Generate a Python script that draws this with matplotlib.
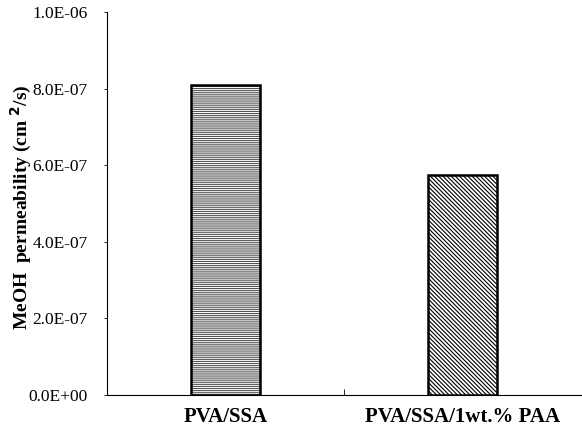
import matplotlib
matplotlib.use("Agg")
import matplotlib.pyplot as plt
import numpy as np

categories = ["PVA/SSA", "PVA/SSA/1wt.% PAA"]
values = [8.1e-7, 5.75e-7]
hatches = ["--------", "\\\\\\\\\\\\\\\\"]
hatch_colors = ["#555555", "black"]
yticks = [0, 2e-7, 4e-7, 6e-7, 8e-7, 1e-6]
ytick_labels = ["0.0E+00", "2.0E-07", "4.0E-07", "6.0E-07", "8.0E-07", "1.0E-06"]

plt.rcParams['font.family'] = ['Liberation Serif', 'DejaVu Serif']
plt.rcParams['hatch.linewidth'] = 0.8

fig = plt.figure(figsize=(5.82, 4.29), dpi=100)
ax = fig.add_axes([0.184, 0.0793, 0.814, 0.893])

x = np.arange(len(categories))
for i, (v, h, hc) in enumerate(zip(values, hatches, hatch_colors)):
    ax.bar(x[i], v, width=0.29, facecolor='white', edgecolor=hc,
           linewidth=0, hatch=h, zorder=3)
    ax.bar(x[i], v, width=0.29, facecolor='none', edgecolor='black',
           linewidth=1.8, zorder=4)

ax.set_xlim(-0.5, 1.5)
ax.set_ylim(0, 1e-6)
ax.spines['top'].set_visible(False)
ax.spines['right'].set_visible(False)
ax.spines['left'].set_linewidth(0.8)
ax.spines['bottom'].set_linewidth(0.8)

ax.set_yticks(yticks)
ax.set_yticklabels(ytick_labels, fontsize=12.5)
ax.tick_params(axis='y', direction='out', length=2, width=0.6, pad=12)

ax.set_xticks(x)
ax.set_xticklabels(categories, fontsize=15, fontweight='bold')
ax.tick_params(axis='x', length=0, pad=9)
ax.set_xticks([0.5], minor=True)
ax.tick_params(axis='x', which='minor', direction='in', length=4, width=0.6)

ax.set_ylabel(r"MeOH  permeability (cm $^{\mathbf{2}}$/s)", fontsize=14,
              fontweight='bold')
ax.yaxis.set_label_coords(-0.155, 0.49)

fig.savefig("out.png", dpi=100)
